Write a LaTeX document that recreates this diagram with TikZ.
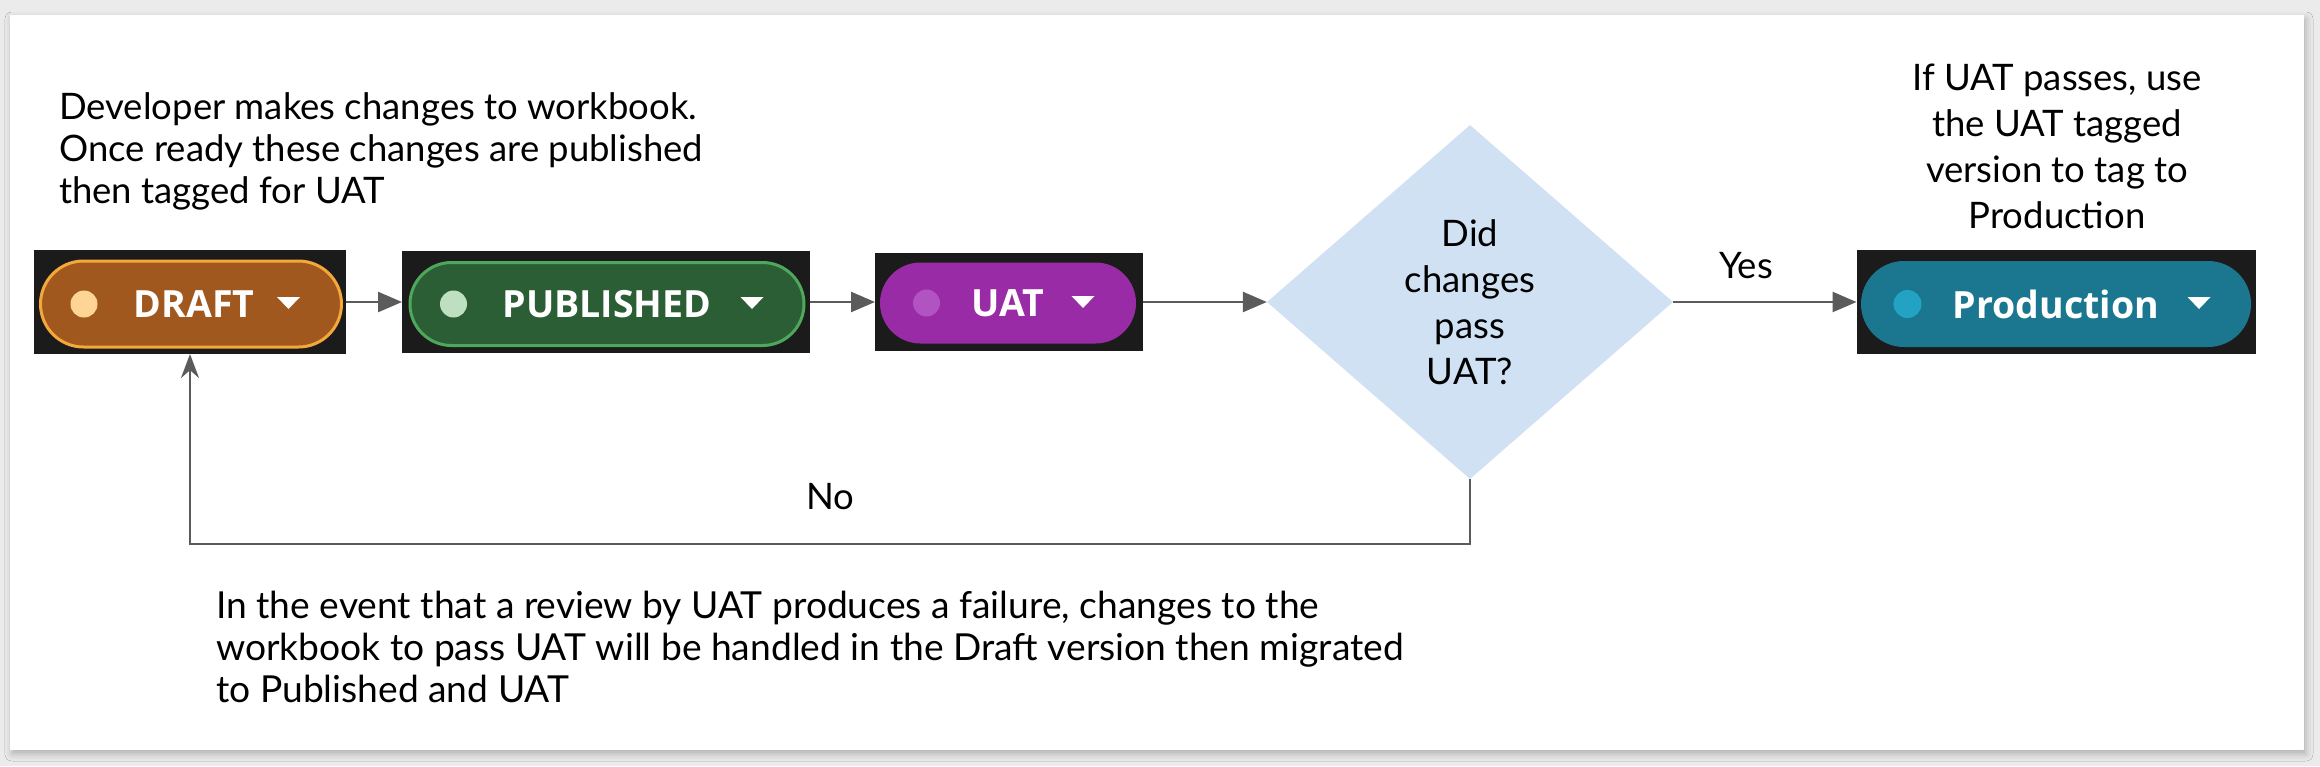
\documentclass[tikz,border=0pt]{standalone}
\usepackage{fontspec}
\setmainfont{Lato}
\newfontfamily\chipfont{Open Sans}
\usetikzlibrary{arrows.meta,shapes.geometric,shapes.misc,shadows.blur}
\definecolor{pagegray}{HTML}{EBEBEB}
\definecolor{chipblack}{HTML}{1B1B1B}
\definecolor{draftfill}{HTML}{A0581E}
\definecolor{draftline}{HTML}{F5A83A}
\definecolor{draftdot}{HTML}{FFD595}
\definecolor{pubfill}{HTML}{2C5E36}
\definecolor{publine}{HTML}{4DA85B}
\definecolor{pubdot}{HTML}{BEE0C0}
\definecolor{uatfill}{HTML}{9A2BA6}
\definecolor{uatdot}{HTML}{B153C0}
\definecolor{prodfill}{HTML}{1B7790}
\definecolor{proddot}{HTML}{22A3C3}
\definecolor{decfill}{HTML}{CFE1F2}
\definecolor{arrowgray}{HTML}{5B5B5B}

\begin{document}
\begin{tikzpicture}[x=1pt,y=-1pt,
  chipbox/.style={rectangle,fill=chipblack,inner sep=0,outer sep=0},
  pill/.style={rounded rectangle,inner sep=0,line width=3pt},
  chiptext/.style={text=white,inner sep=0,font=\chipfont\bfseries\fontsize{37.5}{40}\selectfont},
  note/.style={font=\fontsize{36.5}{42}\selectfont,align=left,inner sep=0},
  flow/.style={-{Triangle[length=24pt,width=20pt]},line width=2.5pt,draw=arrowgray},
  back/.style={-{Stealth[length=24pt,width=18pt]},line width=2.5pt,draw=arrowgray}]
\useasboundingbox (0,0) rectangle (2320,766);
\fill[pagegray] (0,0) rectangle (2320,766);
\fill[white,blur shadow={shadow xshift=2pt,shadow yshift=-4pt,shadow blur radius=7pt,shadow opacity=25}] (10,15) rectangle (2304,750);

\node[note,anchor=north west] (devnote) at (59,92) {Developer makes changes to workbook.\\Once ready these changes are published\\then tagged for UAT};
\node[note,align=center,anchor=north,font=\fontsize{36.5}{46}\selectfont] (prodnote) at (2057,64) {If UAT passes, use\\the UAT tagged\\version to tag to\\Production};
\node[note,anchor=north west,font=\fontsize{37.2}{42}\selectfont] (failnote) at (216,591) {In the event that a review by UAT produces a failure, changes to the\\workbook to pass UAT will be handled in the Draft version then migrated\\to Published and UAT};

\node[chipbox,minimum width=312pt,minimum height=104pt] (draft) at (190,302) {};
\node[pill,fill=draftfill,draw=draftline,minimum width=301pt,minimum height=86pt] (draftpill) at (191,304) {};
\fill[draftdot] ([xshift=45pt]draftpill.west) circle (13.5);
\node[chiptext] (drafttxt) at ([xshift=3pt]draftpill.center) {DRAFT};
\fill[white] ([xshift=-66pt,yshift=7pt]draftpill.east) -- ++(23,0) -- ++(-11.5,12) -- cycle;

\node[chipbox,minimum width=408pt,minimum height=102pt] (pub) at (606,302) {};
\node[pill,fill=pubfill,draw=publine,minimum width=394pt,minimum height=83pt] (pubpill) at (607,304) {};
\fill[pubdot] ([xshift=45pt]pubpill.west) circle (13.5);
\node[chiptext] (pubtxt) at (pubpill) {PUBLISHED};
\fill[white] ([xshift=-65pt,yshift=7pt]pubpill.east) -- ++(23,0) -- ++(-11.5,12) -- cycle;

\node[chipbox,minimum width=268pt,minimum height=98pt] (uat) at (1009,302) {};
\node[pill,fill=uatfill,minimum width=256pt,minimum height=81pt] (uatpill) at (1008,303) {};
\fill[uatdot] ([xshift=48pt]uatpill.west) circle (13.5);
\node[chiptext] (uattxt) at (uatpill) {UAT};
\fill[white] ([xshift=-66pt,yshift=7pt]uatpill.east) -- ++(23,0) -- ++(-11.5,12) -- cycle;

\node[diamond,fill=decfill,minimum width=406pt,minimum height=354pt,inner sep=0,align=center,font=\fontsize{36.5}{46}\selectfont] (check) at (1470,302) {Did\\changes\\pass\\UAT?};

\node[chipbox,minimum width=399pt,minimum height=104pt] (prod) at (2056,302) {};
\node[pill,fill=prodfill,minimum width=390pt,minimum height=86pt] (prodpill) at (2056,304) {};
\fill[proddot] ([xshift=48pt]prodpill.west) circle (14);
\node[chiptext] (prodtxt) at (prodpill) {Production};
\fill[white] ([xshift=-65pt,yshift=7pt]prodpill.east) -- ++(23,0) -- ++(-11.5,12) -- cycle;

\draw[flow] (draft) -- (pub);
\draw[flow] (pub) -- (uat);
\draw[flow] (uat) -- (check);
\draw[flow] (check) -- (prod);
\node[font=\fontsize{36.5}{42}\selectfont] (yes) at (1746,266) {Yes};
\draw[back] (check.south) -- (check.south |- 0,544) -| (draft.south);
\node[font=\fontsize{36.5}{42}\selectfont] (no) at (830,497) {No};
\end{tikzpicture}
\end{document}
